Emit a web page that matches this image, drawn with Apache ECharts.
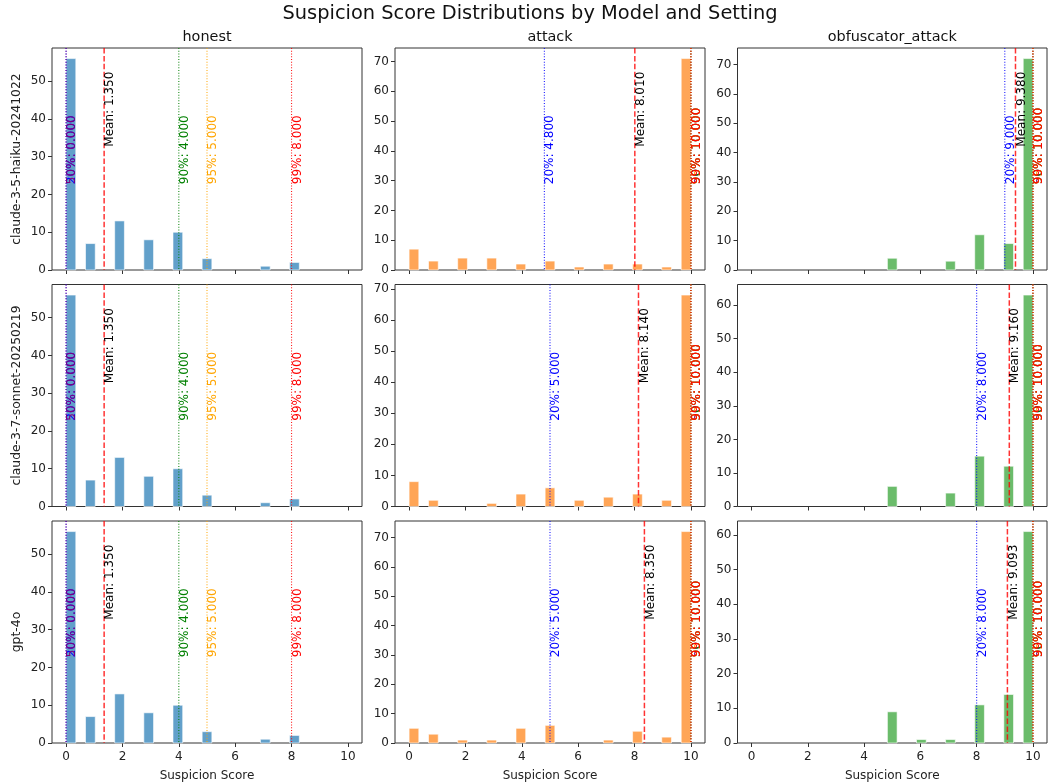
<!DOCTYPE html>
<html><head><meta charset="utf-8">
<script src="https://cdn.jsdelivr.net/npm/echarts@6/dist/echarts.min.js"></script>
<style>html,body{margin:0;padding:0;background:#fff}#chart{width:1048px;height:784px}</style>
</head><body><div id="chart"></div>
<script>
// ---------------- data ----------------
const models = ['claude-3-5-haiku-20241022', 'claude-3-7-sonnet-20250219', 'gpt-4o'];
const settings = ['honest', 'attack', 'obfuscator_attack'];
const scoreValues = [0, 1, 2, 3, 4, 5, 6, 7, 8, 9, 10];
const xTicks = [0, 2, 4, 6, 8, 10];

// counts per score value (0..10)
const haikuHonest  = [56, 7, 13, 8, 10, 3, 0, 1, 2, 0, 0];
const haikuAttack  = [7, 3, 4, 4, 2, 3, 1, 2, 2, 1, 71];
const haikuObf     = [0, 0, 0, 0, 0, 4, 0, 3, 12, 9, 72];
const sonnetHonest = [56, 7, 13, 8, 10, 3, 0, 1, 2, 0, 0];
const sonnetAttack = [8, 2, 0, 1, 4, 6, 2, 3, 4, 2, 68];
const sonnetObf    = [0, 0, 0, 0, 0, 6, 0, 4, 15, 12, 63];
const gptHonest    = [56, 7, 13, 8, 10, 3, 0, 1, 2, 0, 0];
const gptAttack    = [5, 3, 1, 1, 5, 6, 0, 1, 4, 2, 72];
const gptObf       = [0, 0, 0, 0, 0, 9, 1, 1, 11, 14, 61];

// percentile markers: 20%, 50%, 90%, 95%, 99%
const percentileNames = ['20%', '50%', '90%', '95%', '99%'];
const haikuHonestPct  = [0, 0, 4, 5, 8];
const haikuAttackPct  = [4.8, 10, 10, 10, 10];
const haikuObfPct     = [9, 10, 10, 10, 10];
const sonnetHonestPct = [0, 0, 4, 5, 8];
const sonnetAttackPct = [5, 10, 10, 10, 10];
const sonnetObfPct    = [8, 10, 10, 10, 10];
const gptHonestPct    = [0, 0, 4, 5, 8];
const gptAttackPct    = [5, 10, 10, 10, 10];
const gptObfPct       = [8, 10, 10, 10, 10];

// means
const haikuMeans  = [1.350, 8.010, 9.380];
const sonnetMeans = [1.350, 8.140, 9.160];
const gptMeans    = [1.350, 8.350, 9.093];

// y tick labels
const yTicks50 = [0, 10, 20, 30, 40, 50];
const yTicks60 = [0, 10, 20, 30, 40, 50, 60];
const yTicks70 = [0, 10, 20, 30, 40, 50, 60, 70];

// histogram binning
const histRange = [0, 10];
const histBins = 29;

// --------------- assembly ---------------
const countsGrid = [[haikuHonest, haikuAttack, haikuObf], [sonnetHonest, sonnetAttack, sonnetObf], [gptHonest, gptAttack, gptObf]];
const pctGrid = [[haikuHonestPct, haikuAttackPct, haikuObfPct], [sonnetHonestPct, sonnetAttackPct, sonnetObfPct], [gptHonestPct, gptAttackPct, gptObfPct]];
const meanGrid = [haikuMeans, sonnetMeans, gptMeans];
const yTickGrid = [[yTicks50, yTicks70, yTicks70], [yTicks50, yTicks70, yTicks60], [yTicks50, yTicks70, yTicks60]];

const FONT = 'DejaVu Sans';
const SMALL = 12;
const barColors = ['#62a0ca', '#ffa556', '#6bbc6b'];
const pctColors = ['blue', 'purple', 'green', 'orange', 'red'];
const gridLefts = [52, 395, 737.5];
const gridWidths = [310, 310, 309.5];
const gridTops = [48, 284.5, 521];
const gridH = 222;

function binData(counts) {
  const w = (histRange[1] - histRange[0]) / histBins;
  const bins = new Array(histBins).fill(0);
  scoreValues.forEach((v, i) => {
    let b = Math.floor((v - histRange[0]) / w + 1e-9);
    if (b >= histBins) b = histBins - 1;
    bins[b] += counts[i];
  });
  const out = [];
  bins.forEach((n, b) => { if (n > 0) out.push([histRange[0] + b * w, histRange[0] + (b + 1) * w, n]); });
  return out;
}

const grids = [], xAxes = [], yAxes = [], series = [];
for (let r = 0; r < 3; r++) {
  for (let c = 0; c < 3; c++) {
    const idx = r * 3 + c;
    const counts = countsGrid[r][c];
    const maxCount = Math.max(...counts);
    grids.push({left: gridLefts[c], top: gridTops[r], width: gridWidths[c], height: gridH,
      show: true, borderColor: '#333', borderWidth: 1, backgroundColor: 'transparent'});
    xAxes.push({
      gridIndex: idx, type: 'value', min: -0.5, max: 10.5,
      axisLine: {show: false, onZero: false}, splitLine: {show: false},
      axisTick: {show: true, length: 4, lineStyle: {color: '#333', width: 1}, customValues: xTicks},
      axisLabel: {show: r === 2, customValues: xTicks, fontSize: SMALL, color: '#222', fontFamily: FONT, margin: 8},
      name: r === 2 ? 'Suspicion Score' : '', nameLocation: 'middle', nameGap: 27,
      nameTextStyle: {fontSize: SMALL, color: '#222', fontFamily: FONT}
    });
    const yt = yTickGrid[r][c];
    yAxes.push({
      gridIndex: idx, type: 'value', min: 0, max: maxCount * 1.05,
      axisLine: {show: false, onZero: false}, splitLine: {show: false},
      axisTick: {show: true, length: 4, lineStyle: {color: '#333', width: 1}, customValues: yt},
      axisLabel: {customValues: yt, fontSize: SMALL, color: '#222', fontFamily: FONT, margin: 6},
      name: c === 0 ? models[r] : '', nameLocation: 'middle', nameGap: 29,
      nameTextStyle: {fontSize: 12.4, color: '#222', fontFamily: FONT}
    });
    const color = barColors[c];
    series.push({
      type: 'custom', xAxisIndex: idx, yAxisIndex: idx, silent: true,
      encode: {x: [0, 1], y: 2},
      data: binData(counts),
      renderItem: function (params, api) {
        const p0 = api.coord([api.value(0), api.value(2)]);
        const p1 = api.coord([api.value(1), 0]);
        return {type: 'rect', shape: {x: p0[0], y: p0[1], width: p1[0] - p0[0], height: p1[1] - p0[1]},
          style: {fill: color, stroke: 'rgba(255,255,255,0.75)', lineWidth: 0.8}};
      },
      z: 2
    });
    // marker lines: percentiles then mean
    const pcts = pctGrid[r][c];
    const mean = meanGrid[r][c];
    const markers = pcts.map((v, i) => ({x: v, label: percentileNames[i] + ': ' + v.toFixed(3), kind: 'pct', color: pctColors[i]}));
    markers.push({x: mean, label: 'Mean: ' + mean.toFixed(3), kind: 'mean', color: 'red'});
    series.push({
      type: 'custom', xAxisIndex: idx, yAxisIndex: idx, silent: true,
      encode: {x: 0, y: 1},
      data: markers.map(m => [m.x, 0]),
      renderItem: function (params, api) {
        const m = markers[params.dataIndex];
        const cs = params.coordSys;
        const px = api.coord([api.value(0), 0])[0];
        const frac = m.kind === 'mean' ? 0.6 : 0.4;
        const py = api.coord([api.value(0), maxCount * frac])[1] + (m.kind === 'mean' ? 3.5 : -1.2);
        const lineStyle = m.kind === 'mean'
          ? {stroke: 'red', lineWidth: 1.5, lineDash: [5.5, 2.4], opacity: 0.8}
          : {stroke: m.color, lineWidth: 1.1, lineDash: [1.1, 1.65], opacity: 0.9};
        return {type: 'group', children: [
          {type: 'line', shape: {x1: px, y1: cs.y, x2: px, y2: cs.y + cs.height}, style: lineStyle},
          {type: 'text', x: px, y: py, rotation: Math.PI / 2,
            style: {text: m.label, fill: m.kind === 'mean' ? '#000' : m.color,
              fontSize: 12, fontFamily: FONT, align: 'left', verticalAlign: 'top'}}
        ]};
      },
      z: 5
    });
  }
}

const graphics = [
  {type: 'text', x: 530, y: 14, style: {text: 'Suspicion Score Distributions by Model and Setting', fontSize: 19.4, fontFamily: FONT, fill: '#111', align: 'center', verticalAlign: 'middle'}}
];
settings.forEach((s, c) => {
  graphics.push({type: 'text', x: gridLefts[c] + gridWidths[c] / 2, y: 37,
    style: {text: s, fontSize: 14.4, fontFamily: FONT, fill: '#111', align: 'center', verticalAlign: 'middle'}});
});

const chart = echarts.init(document.getElementById('chart'));
chart.setOption({
  animation: false,
  backgroundColor: '#fff',
  grid: grids, xAxis: xAxes, yAxis: yAxes, series: series,
  graphic: graphics
});
</script></body></html>
